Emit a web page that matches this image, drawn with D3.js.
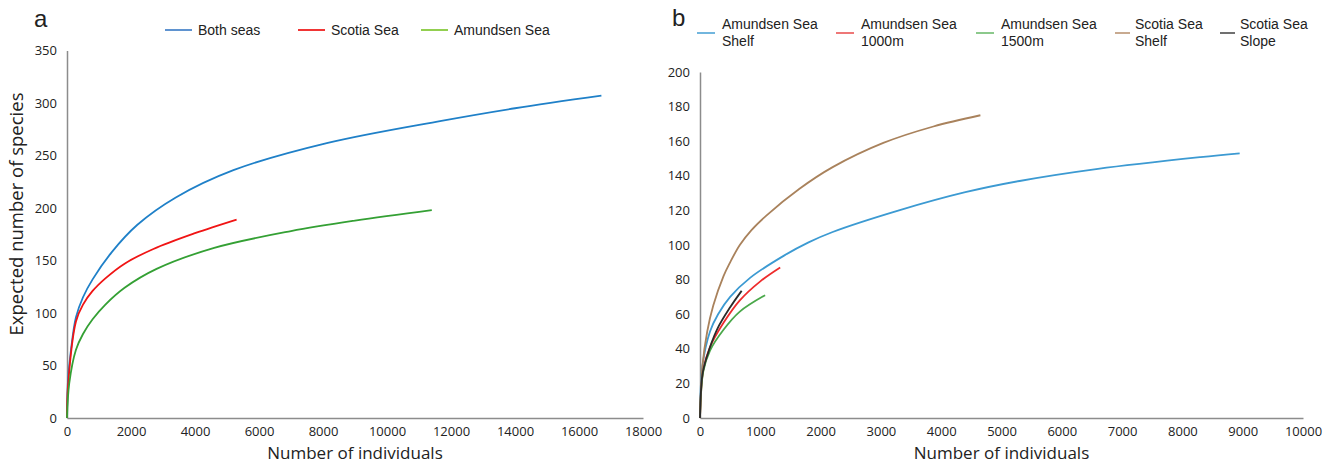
<!DOCTYPE html>
<html>
<head>
<meta charset="utf-8">
<script src="https://cdn.jsdelivr.net/npm/d3@7"></script>
<style>
  body { margin: 0; background: #fff; }
  svg text { fill: #222; }
</style>
</head>
<body>
<svg id="chart" width="1336" height="465"></svg>
<script>
// panel a - rarefaction curves, [individuals, expected species]
var bothSeas = [[0,0],[30,35],[125,65],[280,96],[500,115],[800,132],[1400,158],[2200,184],[3400,210],[5200,236],[8150,262],[11700,283],[14000,295],[16700,307]];
var scotiaSea = [[0,0],[30,30],[280,92],[500,108],[800,121],[1200,133],[1800,147],[2700,161],[4000,176],[5300,189]];
var amundsenSea = [[0,0],[70,33],[280,65],[500,80],[800,94],[1200,108],[1800,124],[2800,142],[4600,162],[7000,178],[9000,188],[11400,198]];

// panel b
var amundsenShelf = [[0,0],[40,30],[166,50],[300,60],[500,70],[830,81],[1400,94],[1800,101.5],[2200,107.5],[3300,120],[4400,130.5],[5300,137],[6600,144],[8300,150.8],[8950,153]];
var amundsen1000 = [[0,0],[55,28],[166,41],[390,55],[660,68],[1000,79],[1330,87]];
var amundsen1500 = [[0,0],[55,27],[166,39],[390,51],[660,61.5],[1080,71]];
var scotiaShelf = [[0,0],[40,30],[120,50],[220,65],[390,82],[500,90],[660,100],[850,108.5],[1100,117],[1650,132.5],[2200,145],[3040,159],[3870,168.5],[4650,175]];
var scotiaSlope = [[0,0],[40,25],[110,35],[280,51],[500,64],[690,73.5]];

var xTicksA = [0,2000,4000,6000,8000,10000,12000,14000,16000,18000];
var yTicksA = [0,50,100,150,200,250,300,350];
var xTicksB = [0,1000,2000,3000,4000,5000,6000,7000,8000,9000,10000];
var yTicksB = [0,20,40,60,80,100,120,140,160,180,200];

var seriesA = [
  {name: "Both seas", data: bothSeas, color: "#1f80c8", legend: "#5f93d0"},
  {name: "Scotia Sea", data: scotiaSea, color: "#f01414", legend: "#f03535"},
  {name: "Amundsen Sea", data: amundsenSea, color: "#34a034", legend: "#92cf50"}
];
var seriesB = [
  {name: ["Amundsen Sea", "Shelf"], data: amundsenShelf, color: "#3c9ad2", legend: "#72b6de"},
  {name: ["Amundsen Sea", "1000m"], data: amundsen1000, color: "#ee2c2c", legend: "#ee7777"},
  {name: ["Amundsen Sea", "1500m"], data: amundsen1500, color: "#4aa84a", legend: "#8cc98c"},
  {name: ["Scotia Sea", "Shelf"], data: scotiaShelf, color: "#a9825c", legend: "#c8aa90"},
  {name: ["Scotia Sea", "Slope"], data: scotiaSlope, color: "#2a2a2a", legend: "#707070"}
];

var svg = d3.select("#chart");
var tickFont = "'Open Sans', sans-serif";
var legFont = "'Liberation Sans', Arial, sans-serif";

function drawPanel(opt) {
  var x = d3.scaleLinear().domain(opt.xDomain).range([opt.left, opt.right]);
  var y = d3.scaleLinear().domain(opt.yDomain).range([opt.bottom, opt.top]);
  var g = svg.append("g");

  // axes (Excel style, no tick marks)
  var xAxis = g.append("g").attr("transform", "translate(0," + opt.bottom + ")")
    .call(d3.axisBottom(x).tickValues(opt.xTicks).tickSize(0).tickPadding(9).tickFormat(d3.format("d")));
  var yAxis = g.append("g").attr("transform", "translate(" + opt.left + ",0)")
    .call(d3.axisLeft(y).tickValues(opt.yTicks).tickSize(0).tickPadding(10).tickFormat(d3.format("d")));
  [xAxis, yAxis].forEach(function(a) {
    a.select(".domain").attr("stroke", "#8c8c8c").attr("stroke-width", 1.5);
    a.selectAll("text").attr("font-family", tickFont).attr("font-size", 13).attr("fill", "#222");
  });

  var line = d3.line()
    .x(function(d) { return x(d[0]); })
    .y(function(d) { return y(d[1]); })
    .curve(d3.curveCatmullRom.alpha(0.5));

  g.selectAll("path.curve")
    .data(opt.series)
    .enter()
    .append("path")
    .attr("class", "curve")
    .attr("d", function(s) { return line(s.data); })
    .attr("fill", "none")
    .attr("stroke", function(s) { return s.color; })
    .attr("stroke-width", 1.8);

  // axis titles
  g.append("text")
    .attr("x", (opt.left + opt.right) / 2).attr("y", 459)
    .attr("text-anchor", "middle")
    .attr("font-family", tickFont).attr("font-size", 17)
    .text("Number of individuals");
  if (opt.yTitle) {
    g.append("text")
      .attr("transform", "translate(23,214) rotate(-90)")
      .attr("text-anchor", "middle")
      .attr("font-family", tickFont).attr("font-size", 18.5)
      .text(opt.yTitle);
  }
}

drawPanel({left: 67, right: 643, top: 50.5, bottom: 418, xDomain: [0, 18000], yDomain: [0, 350],
  xTicks: xTicksA, yTicks: yTicksA, series: seriesA, yTitle: "Expected number of species"});
drawPanel({left: 700, right: 1303, top: 72, bottom: 418, xDomain: [0, 10000], yDomain: [0, 200],
  xTicks: xTicksB, yTicks: yTicksB, series: seriesB});

// panel labels
svg.append("text").attr("x", 34).attr("y", 27).attr("font-family", legFont).attr("font-size", 24).text("a");
svg.append("text").attr("x", 672).attr("y", 26).attr("font-family", legFont).attr("font-size", 24).text("b");

// legend a
var legA = svg.append("g").selectAll("g").data(seriesA).enter().append("g")
  .attr("transform", function(d, i) { return "translate(" + [165, 298, 421][i] + ",30)"; });
legA.append("line").attr("x1", 0).attr("x2", 27).attr("stroke", function(d) { return d.legend; }).attr("stroke-width", 2);
legA.append("text").attr("x", 33).attr("y", 5).attr("font-family", legFont).attr("font-size", 14)
  .text(function(d) { return d.name; });

// legend b
var legB = svg.append("g").selectAll("g").data(seriesB).enter().append("g")
  .attr("transform", function(d, i) { return "translate(" + [697, 836, 976, 1115, 1220][i] + ",33)"; });
legB.append("line").attr("x1", 0).attr("x2", function(d, i) { return i < 3 ? 18 : 15; })
  .attr("stroke", function(d) { return d.legend; }).attr("stroke-width", 2);
legB.append("text").attr("font-family", legFont).attr("font-size", 14)
  .selectAll("tspan").data(function(d) { return d.name; }).enter().append("tspan")
  .attr("x", function() { return d3.select(this.parentNode.parentNode).datum().name[0].indexOf("Scotia") === 0 ? 20 : 25; })
  .attr("y", function(d, i) { return i === 0 ? -4 : 13; })
  .text(function(d) { return d; });
</script>
</body>
</html>
